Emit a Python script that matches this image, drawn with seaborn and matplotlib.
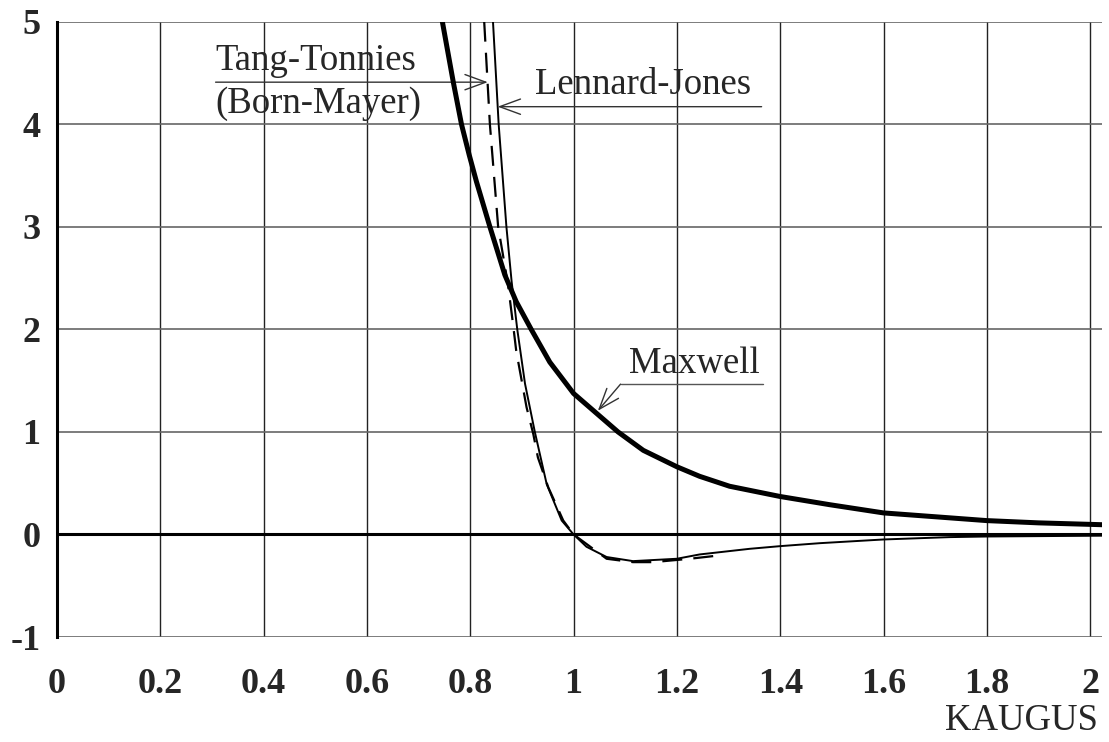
import seaborn as sns
import matplotlib.pyplot as plt

# values
maxwell_x = [0.746, 0.767, 0.783, 0.798, 0.812, 0.838, 0.867, 0.889, 0.918, 0.954, 1.0,
             1.086, 1.135, 1.2, 1.244, 1.302, 1.4, 1.496, 1.6, 1.728, 1.8, 1.9, 2.023]
maxwell_y = [5.0, 4.415, 4.0, 3.70, 3.44, 3.0, 2.53, 2.27, 2.0, 1.68, 1.375,
             1.0, 0.82, 0.66, 0.567, 0.47, 0.37, 0.29, 0.21, 0.162, 0.135, 0.113, 0.095]

lj_x = [0.844, 0.855, 0.870, 0.880, 0.891, 0.906, 0.925, 0.948, 0.977, 1.0,
        1.025, 1.064, 1.115, 1.2, 1.244, 1.341, 1.4, 1.477, 1.6, 1.728, 1.8, 2.023]
lj_y = [5.0, 4.0, 3.0, 2.47, 2.0, 1.47, 1.0, 0.49, 0.136, 0.0,
        -0.12, -0.22, -0.26, -0.237, -0.195, -0.14, -0.114, -0.085, -0.049, -0.026, -0.02, -0.012]

tt_x = [0.827, 0.838, 0.854, 0.873, 0.884, 0.889, 0.909, 0.922, 0.931, 0.951, 0.980, 1.0,
        1.064, 1.115, 1.154, 1.225, 1.283]
tt_y = [5.0, 4.0, 3.0, 2.44, 2.0, 1.79, 1.24, 0.98, 0.75, 0.46, 0.136, 0.0,
        -0.237, -0.27, -0.27, -0.237, -0.204]

x_ticks = [0, 0.2, 0.4, 0.6, 0.8, 1, 1.2, 1.4, 1.6, 1.8, 2]
x_labels = ["0", "0.2", "0.4", "0.6", "0.8", "1", "1.2", "1.4", "1.6", "1.8", "2"]
y_ticks = [-1, 0, 1, 2, 3, 4, 5]

sns.set_style("white")
plt.rcParams["font.family"] = ["Liberation Serif", "DejaVu Serif"]

fig = plt.figure(figsize=(11.09, 7.42), dpi=100)
ax = fig.add_axes([0.0514, 0.1415, 0.9423, 0.8293])

# grid
for xv in x_ticks[1:]:
    ax.axvline(xv, color="#222222", lw=1.0, zorder=1)
for yv in y_ticks:
    ax.axhline(yv, color="#666666", lw=1.2, zorder=1)
ax.axhline(0, color="black", lw=2.2, zorder=2)

sns.lineplot(x=maxwell_x, y=maxwell_y, sort=False, estimator=None, color="black",
             linewidth=3.6, ax=ax, zorder=4)
sns.lineplot(x=lj_x, y=lj_y, sort=False, estimator=None, color="black",
             linewidth=1.4, ax=ax, zorder=4)
sns.lineplot(x=tt_x, y=tt_y, sort=False, estimator=None, color="black",
             linewidth=1.6, linestyle=(0, (9, 5)), ax=ax, zorder=4)

ax.set_xlim(0, 2.023)
ax.set_ylim(-1, 5)
ax.set_xticks(x_ticks)
ax.set_xticklabels(x_labels, fontsize=26, fontweight="bold")
ax.set_yticks(y_ticks)
ax.set_yticklabels([str(v) for v in y_ticks], fontsize=26, fontweight="bold")
ax.tick_params(axis="both", length=0)
ax.tick_params(axis="x", pad=22)
ax.tick_params(axis="y", pad=12)

for s in ["top", "right", "bottom"]:
    ax.spines[s].set_visible(False)
ax.spines["left"].set_color("black")
ax.spines["left"].set_linewidth(2.2)

# labels with pointer arrows
arrow = dict(arrowstyle="->,head_length=1.5,head_width=0.55", color="#333333",
             lw=1.0, mutation_scale=10, shrinkA=0, shrinkB=0)

ax.text(0.307, 4.53, "Tang-Tonnies", fontsize=26.5, va="baseline", ha="left")
ax.text(0.307, 4.107, "(Born-Mayer)", fontsize=26.5, va="baseline", ha="left")
ax.annotate("", xy=(0.834, 4.41), xytext=(0.307, 4.41), arrowprops=arrow)

ax.text(0.925, 4.295, "Lennard-Jones", fontsize=26.5, va="baseline", ha="left")
ax.annotate("", xy=(0.853, 4.171), xytext=(1.364, 4.171), arrowprops=arrow)

ax.text(1.107, 1.579, "Maxwell", fontsize=26.5, va="baseline", ha="left")
ax.plot([1.366, 1.091], [1.466, 1.466], color="#555555", lw=1.0)
ax.annotate("", xy=(1.047, 1.206), xytext=(1.091, 1.466), arrowprops=arrow)

fig.text(0.990, 0.016, "KAUGUS", fontsize=26.5, ha="right", va="baseline")

fig.savefig("out.png", dpi=100)
